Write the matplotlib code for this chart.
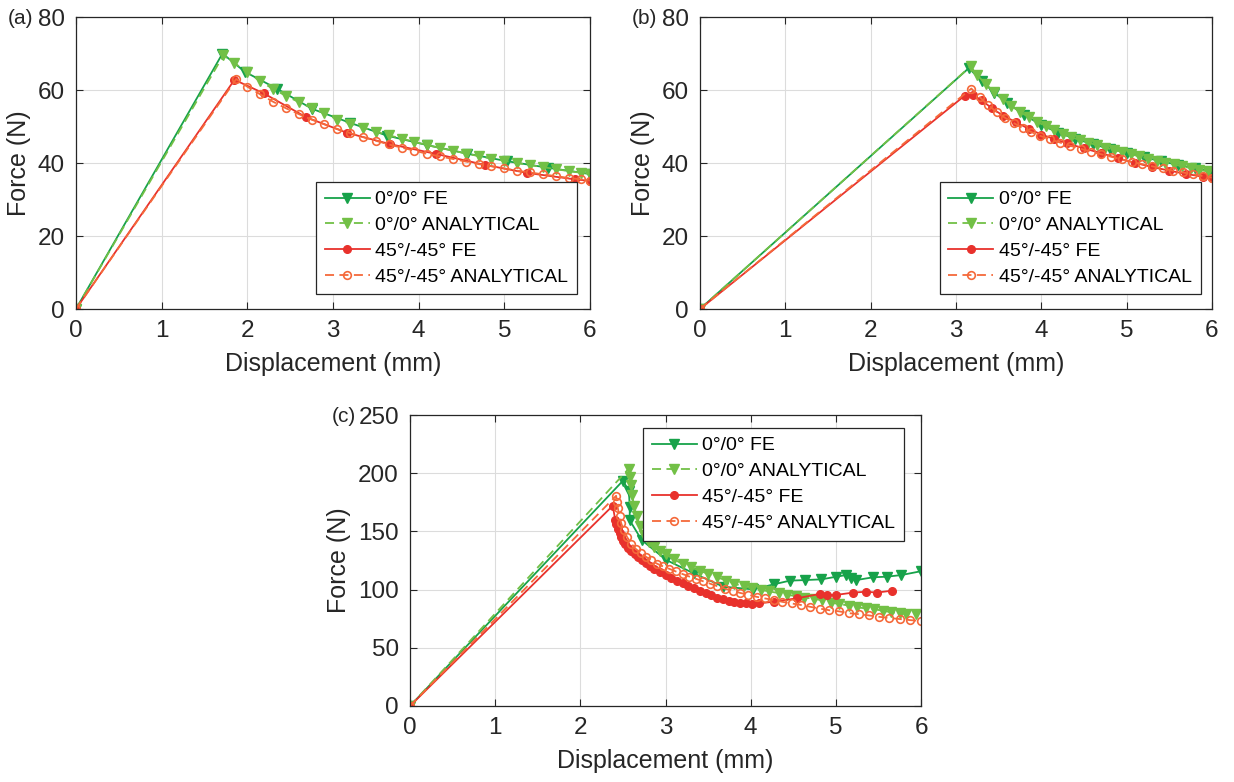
import matplotlib
matplotlib.use("Agg")
import matplotlib.pyplot as plt

plt.rcParams["font.family"] = ["Liberation Sans", "DejaVu Sans"]

W, H = 1234, 782

labels = ["0°/0° FE", "0°/0° ANALYTICAL", "45°/-45° FE", "45°/-45° ANALYTICAL"]
colors = ["#17a24a", "#72c046", "#e8312c", "#f5693a"]

# ---- panel (a) ----
a_fe0_x = [0, 1.71, 1.97, 2.35, 2.76, 3.2, 3.63, 4.1, 4.56, 5.03, 5.51, 6.0]
a_fe0_y = [0, 70.0, 65.0, 60.3, 54.8, 51.0, 47.5, 44.9, 42.6, 40.5, 38.7, 37.0]
a_an0_x = [0, 1.72, 1.85, 2.0, 2.15, 2.3, 2.45, 2.6, 2.75, 2.9, 3.05, 3.2, 3.35, 3.5, 3.65,
           3.8, 3.95, 4.1, 4.25, 4.4, 4.55, 4.7, 4.85, 5.0, 5.15, 5.3, 5.45, 5.6, 5.75, 5.9, 6.0]
a_an0_y = [0, 69.5, 67.4, 64.8, 62.4, 60.3, 58.4, 56.7, 55.1, 53.6, 51.9, 50.8, 49.7, 48.6, 47.6,
           46.7, 45.8, 44.9, 44.1, 43.4, 42.6, 41.9, 41.2, 40.6, 40.0, 39.4, 38.9, 38.3, 37.8, 37.3, 37.0]
a_fe45_x = [0, 1.85, 2.19, 2.69, 3.16, 3.66, 4.2, 4.77, 5.26, 5.83, 6.0]
a_fe45_y = [0, 62.8, 59.1, 52.5, 48.3, 45.2, 42.5, 39.5, 37.3, 35.5, 35.1]
a_an45_x = [0, 1.87, 2.0, 2.15, 2.3, 2.45, 2.6, 2.75, 2.9, 3.05, 3.2, 3.35, 3.5, 3.65, 3.8,
            3.95, 4.1, 4.25, 4.4, 4.55, 4.7, 4.85, 5.0, 5.15, 5.3, 5.45, 5.6, 5.75, 5.9, 6.0]
a_an45_y = [0, 63.0, 60.9, 58.8, 56.8, 55.0, 53.4, 51.9, 50.6, 49.3, 48.2, 47.1, 46.1, 45.1, 44.2,
            43.4, 42.5, 41.8, 41.1, 40.4, 39.7, 39.1, 38.5, 37.9, 37.4, 36.9, 36.4, 35.9, 35.5, 35.2]

# ---- panel (b) ----
b_fe0_x = [0, 3.15, 3.3, 3.45, 3.6, 3.8, 4.0, 4.2, 4.4, 4.6, 4.8, 5.0, 5.2, 5.4, 5.6, 5.8, 6.0]
b_fe0_y = [0, 66.0, 62.5, 59.2, 56.5, 53.2, 50.4, 48.3, 46.6, 45.2, 43.9, 42.8, 41.6, 40.5, 39.5, 38.6, 37.6]
b_an0_x = [0, 3.17, 3.25, 3.35, 3.45, 3.55, 3.65, 3.75, 3.85, 3.95, 4.05, 4.15, 4.25, 4.35, 4.45,
           4.55, 4.65, 4.75, 4.85, 4.95, 5.05, 5.15, 5.25, 5.35, 5.45, 5.55, 5.65, 5.75, 5.85, 5.95]
b_an0_y = [0, 66.5, 64.0, 61.6, 59.4, 57.4, 55.6, 54.0, 52.6, 51.3, 50.1, 49.0, 48.0, 47.1, 46.3,
           45.6, 44.9, 44.2, 43.6, 43.0, 42.4, 41.8, 41.2, 40.6, 40.1, 39.6, 39.1, 38.6, 38.1, 37.7]
b_fe45_x = [0, 3.1, 3.2, 3.3, 3.42, 3.55, 3.7, 3.85, 4.0, 4.15, 4.3, 4.5, 4.7, 4.9, 5.1, 5.3, 5.5, 5.7, 5.9, 6.0]
b_fe45_y = [0, 58.4, 58.6, 57.2, 55.0, 53.0, 51.2, 49.4, 47.8, 46.6, 45.4, 44.0, 42.7, 41.3, 40.0,
            38.9, 37.9, 37.0, 36.2, 35.8]
b_an45_x = [0, 3.18, 3.28, 3.38, 3.48, 3.58, 3.68, 3.78, 3.88, 3.98, 4.1, 4.22, 4.34, 4.46, 4.58,
            4.7, 4.82, 4.94, 5.06, 5.18, 5.3, 5.42, 5.54, 5.66, 5.78, 5.9, 6.0]
b_an45_y = [0, 60.4, 58.0, 55.8, 53.9, 52.3, 50.9, 49.6, 48.5, 47.5, 46.5, 45.6, 44.7, 43.9, 43.1,
            42.4, 41.7, 41.0, 40.3, 39.7, 39.1, 38.5, 37.9, 37.4, 36.9, 36.4, 36.0]

# ---- panel (c) ----
c_fe0_x = [0, 2.50, 2.57, 2.58, 2.58, 2.72, 3.01, 3.33, 3.68, 4.03, 4.27, 4.46, 4.64, 4.83,
           5.0, 5.12, 5.18, 5.24, 5.44, 5.60, 5.77, 6.0]
c_fe0_y = [0, 193.5, 185, 171, 159.5, 142.6, 125.4, 114, 102.5, 100.2, 104.5, 107.7, 108.2, 108.8,
           111.0, 112.5, 110.0, 108.2, 110.6, 111.1, 112.5, 115.8]
c_an0_x = [0, 2.57, 2.58, 2.59, 2.61, 2.63, 2.66, 2.70, 2.75, 2.81, 2.87, 2.94, 3.0, 3.1, 3.2,
           3.3, 3.4, 3.5, 3.61, 3.71, 3.81, 3.92, 4.02, 4.12, 4.22, 4.33, 4.43, 4.53, 4.63, 4.74,
           4.84, 4.94, 5.04, 5.15, 5.25, 5.35, 5.45, 5.55, 5.65, 5.75, 5.82, 5.94]
c_an0_y = [0, 204, 197, 190, 181, 172, 163, 155, 147, 141, 136.5, 133, 130.5, 126, 122,
           119, 116.3, 113.5, 110.6, 107.8, 105, 102.7, 101, 99.7, 98.4, 97, 95.6, 94.3, 93.2, 92.2,
           90.7, 88.8, 87.6, 86.3, 84.7, 83.9, 83.2, 81.8, 80.6, 79.6, 79.3, 78.8]
c_fe45_x = [0, 2.38, 2.41, 2.42, 2.44, 2.46, 2.48, 2.5, 2.53, 2.56, 2.6, 2.64, 2.68, 2.72, 2.77,
            2.82, 2.87, 2.93, 3.0, 3.07, 3.14, 3.2, 3.27, 3.34, 3.4, 3.47, 3.54, 3.61, 3.68, 3.75,
            3.81, 3.88, 3.95, 4.02, 4.1, 4.27, 4.54, 4.81, 4.9, 5.0, 5.2, 5.36, 5.48, 5.66]
c_fe45_y = [0, 172, 160, 156, 152, 148.5, 145, 142, 139, 136, 133, 130.5, 128, 125.5, 123,
            120.5, 118, 115.5, 112.8, 110.2, 107.8, 105.5, 103.2, 101, 99, 97, 95, 93.2, 91.7, 90.3,
            89.5, 88.6, 88.2, 87.9, 88.2, 89.6, 92.5, 96.2, 95.4, 95.4, 97.4, 98.2, 97.4, 99.1]
c_an45_x = [0, 2.42, 2.43, 2.44, 2.46, 2.48, 2.51, 2.55, 2.6, 2.65, 2.71, 2.77, 2.83, 2.9, 2.97,
            3.04, 3.12, 3.2, 3.28, 3.36, 3.44, 3.52, 3.61, 3.7, 3.79, 3.88, 3.97, 4.07, 4.17, 4.27,
            4.37, 4.48, 4.59, 4.7, 4.81, 4.92, 5.04, 5.15, 5.27, 5.39, 5.51, 5.63, 5.75, 5.87, 6.0]
c_an45_y = [0, 180.6, 175, 170, 163, 157, 151, 145, 139.5, 135, 131.5, 128.3, 125.2, 122.3, 120,
            118, 115.6, 113.4, 111.2, 109.2, 107.2, 105.2, 102.9, 100.8, 98.8, 97.1, 95.6, 93.8, 92.4, 91,
            89.5, 88.1, 86.8, 85.2, 83.7, 82.3, 81.3, 79.8, 78.9, 77.8, 76.6, 75.6, 74.7, 73.8, 73.0]

panels = [
    ("(a)", (76, 17, 590, 309), 68, [0, 80], [0, 20, 40, 60, 80],
     [(a_fe0_x, a_fe0_y), (a_an0_x, a_an0_y), (a_fe45_x, a_fe45_y), (a_an45_x, a_an45_y)],
     dict(loc="lower right", bbox_to_anchor=(0.975, 0.05))),
    ("(b)", (700, 17, 1212, 309), 68, [0, 80], [0, 20, 40, 60, 80],
     [(b_fe0_x, b_fe0_y), (b_an0_x, b_an0_y), (b_fe45_x, b_fe45_y), (b_an45_x, b_an45_y)],
     dict(loc="lower right", bbox_to_anchor=(0.978, 0.05))),
    ("(c)", (410, 415, 921, 706), 78, [0, 250], [0, 50, 100, 150, 200, 250],
     [(c_fe0_x, c_fe0_y), (c_an0_x, c_an0_y), (c_fe45_x, c_fe45_y), (c_an45_x, c_an45_y)],
     dict(loc="upper right", bbox_to_anchor=(0.967, 0.955))),
]

styles = [
    dict(ls="-", marker="v", ms=7, mfc=colors[0], mec=colors[0]),
    dict(ls=(0, (5, 3)), marker="v", ms=7, mfc=colors[1], mec=colors[1]),
    dict(ls="-", marker="o", ms=5.5, mfc=colors[2], mec=colors[2]),
    dict(ls=(0, (5, 3)), marker="o", ms=5.5, mfc="none", mec=colors[3], mew=1.2),
]

fig = plt.figure(figsize=(W / 100, H / 100), dpi=100)

for tag, (x0, y0, x1, y1), tag_dx, ylim, yticks, series, legkw in panels:
    ax = fig.add_axes([x0 / W, 1 - y1 / H, (x1 - x0) / W, (y1 - y0) / H])
    for (xs, ys), col, st, lab in zip(series, colors, styles, labels):
        ax.plot(xs, ys, color=col, lw=1.3, label=lab, **st)
    ax.set_xlim(0, 6)
    ax.set_ylim(*ylim)
    ax.set_xticks(range(7))
    ax.set_yticks(yticks)
    ax.grid(True, color="#dcdcdc", lw=0.8)
    ax.set_axisbelow(True)
    ax.tick_params(direction="in", top=True, right=True, length=5, width=0.8,
                   labelsize=17.5, colors="#262626", pad=8)
    for sp in ax.spines.values():
        sp.set_color("#262626")
        sp.set_linewidth(0.9)
    ax.set_xlabel("Displacement (mm)", fontsize=18, color="#262626", labelpad=7)
    ax.set_ylabel("Force (N)", fontsize=18, color="#262626", labelpad=5)
    leg = ax.legend(fontsize=14, numpoints=1, handlelength=2.3, handletextpad=0.3,
                    labelspacing=0.42, borderpad=0.45, borderaxespad=0, fancybox=False,
                    framealpha=1, edgecolor="#262626", **legkw)
    leg.get_frame().set_linewidth(0.9)
    fig.text((x0 - tag_dx) / W, 1 - (y0 + 1) / H, tag, fontsize=15, va="center", ha="left",
             color="#262626")

fig.savefig("out.png", dpi=100)
